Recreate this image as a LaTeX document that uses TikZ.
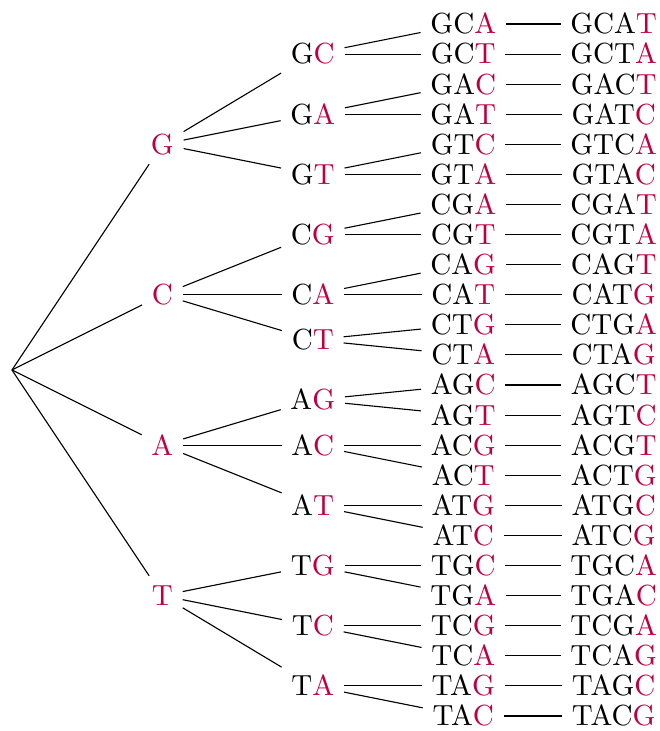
\documentclass[tikz,border=0pt]{standalone}
\usepackage{tikz}
\definecolor{mybasecolor}{HTML}{BF0040}

\begin{document}
\begin{tikzpicture}[seqnode/.style={text height=7.14pt, text depth=0pt}]%
\useasboundingbox (-0.151, -4.560) rectangle (8.178, 4.673);%
\coordinate (root) at (0, 0.0);%
\node[seqnode] (g) at (1.9, 2.85) {\fontsize{10.45pt}{10.45pt}\selectfont \textcolor{mybasecolor}{G}};%
\node[seqnode] (c) at (1.9, 0.95) {\fontsize{10.45pt}{10.45pt}\selectfont \textcolor{mybasecolor}{C}};%
\node[seqnode] (a) at (1.9, -0.95) {\fontsize{10.45pt}{10.45pt}\selectfont \textcolor{mybasecolor}{A}};%
\node[seqnode] (t) at (1.9, -2.85) {\fontsize{10.45pt}{10.45pt}\selectfont \textcolor{mybasecolor}{T}};%
\node[seqnode] (gc) at (3.8, 3.99) {\fontsize{10.45pt}{10.45pt}\selectfont G\textcolor{mybasecolor}{C}};%
\node[seqnode] (ga) at (3.8, 3.23) {\fontsize{10.45pt}{10.45pt}\selectfont G\textcolor{mybasecolor}{A}};%
\node[seqnode] (gt) at (3.8, 2.47) {\fontsize{10.45pt}{10.45pt}\selectfont G\textcolor{mybasecolor}{T}};%
\node[seqnode] (cg) at (3.8, 1.71) {\fontsize{10.45pt}{10.45pt}\selectfont C\textcolor{mybasecolor}{G}};%
\node[seqnode] (ca) at (3.8, 0.95) {\fontsize{10.45pt}{10.45pt}\selectfont C\textcolor{mybasecolor}{A}};%
\node[seqnode] (ct) at (3.8, 0.38) {\fontsize{10.45pt}{10.45pt}\selectfont C\textcolor{mybasecolor}{T}};%
\node[seqnode] (ag) at (3.8, -0.38) {\fontsize{10.45pt}{10.45pt}\selectfont A\textcolor{mybasecolor}{G}};%
\node[seqnode] (ac) at (3.8, -0.95) {\fontsize{10.45pt}{10.45pt}\selectfont A\textcolor{mybasecolor}{C}};%
\node[seqnode] (at) at (3.8, -1.71) {\fontsize{10.45pt}{10.45pt}\selectfont A\textcolor{mybasecolor}{T}};%
\node[seqnode] (tg) at (3.8, -2.47) {\fontsize{10.45pt}{10.45pt}\selectfont T\textcolor{mybasecolor}{G}};%
\node[seqnode] (tc) at (3.8, -3.23) {\fontsize{10.45pt}{10.45pt}\selectfont T\textcolor{mybasecolor}{C}};%
\node[seqnode] (ta) at (3.8, -3.99) {\fontsize{10.45pt}{10.45pt}\selectfont T\textcolor{mybasecolor}{A}};%
\node[seqnode] (gca) at (5.7, 4.37) {\fontsize{10.45pt}{10.45pt}\selectfont GC\textcolor{mybasecolor}{A}};%
\node[seqnode] (gct) at (5.7, 3.99) {\fontsize{10.45pt}{10.45pt}\selectfont GC\textcolor{mybasecolor}{T}};%
\node[seqnode] (gac) at (5.7, 3.61) {\fontsize{10.45pt}{10.45pt}\selectfont GA\textcolor{mybasecolor}{C}};%
\node[seqnode] (gat) at (5.7, 3.23) {\fontsize{10.45pt}{10.45pt}\selectfont GA\textcolor{mybasecolor}{T}};%
\node[seqnode] (gtc) at (5.7, 2.85) {\fontsize{10.45pt}{10.45pt}\selectfont GT\textcolor{mybasecolor}{C}};%
\node[seqnode] (gta) at (5.7, 2.47) {\fontsize{10.45pt}{10.45pt}\selectfont GT\textcolor{mybasecolor}{A}};%
\node[seqnode] (cga) at (5.7, 2.09) {\fontsize{10.45pt}{10.45pt}\selectfont CG\textcolor{mybasecolor}{A}};%
\node[seqnode] (cgt) at (5.7, 1.71) {\fontsize{10.45pt}{10.45pt}\selectfont CG\textcolor{mybasecolor}{T}};%
\node[seqnode] (cag) at (5.7, 1.33) {\fontsize{10.45pt}{10.45pt}\selectfont CA\textcolor{mybasecolor}{G}};%
\node[seqnode] (cat) at (5.7, 0.95) {\fontsize{10.45pt}{10.45pt}\selectfont CA\textcolor{mybasecolor}{T}};%
\node[seqnode] (ctg) at (5.7, 0.57) {\fontsize{10.45pt}{10.45pt}\selectfont CT\textcolor{mybasecolor}{G}};%
\node[seqnode] (cta) at (5.7, 0.19) {\fontsize{10.45pt}{10.45pt}\selectfont CT\textcolor{mybasecolor}{A}};%
\node[seqnode] (agc) at (5.7, -0.19) {\fontsize{10.45pt}{10.45pt}\selectfont AG\textcolor{mybasecolor}{C}};%
\node[seqnode] (agt) at (5.7, -0.57) {\fontsize{10.45pt}{10.45pt}\selectfont AG\textcolor{mybasecolor}{T}};%
\node[seqnode] (acg) at (5.7, -0.95) {\fontsize{10.45pt}{10.45pt}\selectfont AC\textcolor{mybasecolor}{G}};%
\node[seqnode] (act) at (5.7, -1.33) {\fontsize{10.45pt}{10.45pt}\selectfont AC\textcolor{mybasecolor}{T}};%
\node[seqnode] (atg) at (5.7, -1.71) {\fontsize{10.45pt}{10.45pt}\selectfont AT\textcolor{mybasecolor}{G}};%
\node[seqnode] (atc) at (5.7, -2.09) {\fontsize{10.45pt}{10.45pt}\selectfont AT\textcolor{mybasecolor}{C}};%
\node[seqnode] (tgc) at (5.7, -2.47) {\fontsize{10.45pt}{10.45pt}\selectfont TG\textcolor{mybasecolor}{C}};%
\node[seqnode] (tga) at (5.7, -2.85) {\fontsize{10.45pt}{10.45pt}\selectfont TG\textcolor{mybasecolor}{A}};%
\node[seqnode] (tcg) at (5.7, -3.23) {\fontsize{10.45pt}{10.45pt}\selectfont TC\textcolor{mybasecolor}{G}};%
\node[seqnode] (tca) at (5.7, -3.61) {\fontsize{10.45pt}{10.45pt}\selectfont TC\textcolor{mybasecolor}{A}};%
\node[seqnode] (tag) at (5.7, -3.99) {\fontsize{10.45pt}{10.45pt}\selectfont TA\textcolor{mybasecolor}{G}};%
\node[seqnode] (tac) at (5.7, -4.37) {\fontsize{10.45pt}{10.45pt}\selectfont TA\textcolor{mybasecolor}{C}};%
\node[seqnode] (gcat) at (7.6, 4.37) {\fontsize{10.45pt}{10.45pt}\selectfont GCA\textcolor{mybasecolor}{T}};%
\node[seqnode] (gcta) at (7.6, 3.99) {\fontsize{10.45pt}{10.45pt}\selectfont GCT\textcolor{mybasecolor}{A}};%
\node[seqnode] (gact) at (7.6, 3.61) {\fontsize{10.45pt}{10.45pt}\selectfont GAC\textcolor{mybasecolor}{T}};%
\node[seqnode] (gatc) at (7.6, 3.23) {\fontsize{10.45pt}{10.45pt}\selectfont GAT\textcolor{mybasecolor}{C}};%
\node[seqnode] (gtca) at (7.6, 2.85) {\fontsize{10.45pt}{10.45pt}\selectfont GTC\textcolor{mybasecolor}{A}};%
\node[seqnode] (gtac) at (7.6, 2.47) {\fontsize{10.45pt}{10.45pt}\selectfont GTA\textcolor{mybasecolor}{C}};%
\node[seqnode] (cgat) at (7.6, 2.09) {\fontsize{10.45pt}{10.45pt}\selectfont CGA\textcolor{mybasecolor}{T}};%
\node[seqnode] (cgta) at (7.6, 1.71) {\fontsize{10.45pt}{10.45pt}\selectfont CGT\textcolor{mybasecolor}{A}};%
\node[seqnode] (cagt) at (7.6, 1.33) {\fontsize{10.45pt}{10.45pt}\selectfont CAG\textcolor{mybasecolor}{T}};%
\node[seqnode] (catg) at (7.6, 0.95) {\fontsize{10.45pt}{10.45pt}\selectfont CAT\textcolor{mybasecolor}{G}};%
\node[seqnode] (ctga) at (7.6, 0.57) {\fontsize{10.45pt}{10.45pt}\selectfont CTG\textcolor{mybasecolor}{A}};%
\node[seqnode] (ctag) at (7.6, 0.19) {\fontsize{10.45pt}{10.45pt}\selectfont CTA\textcolor{mybasecolor}{G}};%
\node[seqnode] (agct) at (7.6, -0.19) {\fontsize{10.45pt}{10.45pt}\selectfont AGC\textcolor{mybasecolor}{T}};%
\node[seqnode] (agtc) at (7.6, -0.57) {\fontsize{10.45pt}{10.45pt}\selectfont AGT\textcolor{mybasecolor}{C}};%
\node[seqnode] (acgt) at (7.6, -0.95) {\fontsize{10.45pt}{10.45pt}\selectfont ACG\textcolor{mybasecolor}{T}};%
\node[seqnode] (actg) at (7.6, -1.33) {\fontsize{10.45pt}{10.45pt}\selectfont ACT\textcolor{mybasecolor}{G}};%
\node[seqnode] (atgc) at (7.6, -1.71) {\fontsize{10.45pt}{10.45pt}\selectfont ATG\textcolor{mybasecolor}{C}};%
\node[seqnode] (atcg) at (7.6, -2.09) {\fontsize{10.45pt}{10.45pt}\selectfont ATC\textcolor{mybasecolor}{G}};%
\node[seqnode] (tgca) at (7.6, -2.47) {\fontsize{10.45pt}{10.45pt}\selectfont TGC\textcolor{mybasecolor}{A}};%
\node[seqnode] (tgac) at (7.6, -2.85) {\fontsize{10.45pt}{10.45pt}\selectfont TGA\textcolor{mybasecolor}{C}};%
\node[seqnode] (tcga) at (7.6, -3.23) {\fontsize{10.45pt}{10.45pt}\selectfont TCG\textcolor{mybasecolor}{A}};%
\node[seqnode] (tcag) at (7.6, -3.61) {\fontsize{10.45pt}{10.45pt}\selectfont TCA\textcolor{mybasecolor}{G}};%
\node[seqnode] (tagc) at (7.6, -3.99) {\fontsize{10.45pt}{10.45pt}\selectfont TAG\textcolor{mybasecolor}{C}};%
\node[seqnode] (tacg) at (7.6, -4.37) {\fontsize{10.45pt}{10.45pt}\selectfont TAC\textcolor{mybasecolor}{G}};%
\draw (root) -- (g); \draw (root) -- (c); \draw (root) -- (a); \draw (root) -- (t);%
\draw (g) -- (gc); \draw (g) -- (ga); \draw (g) -- (gt);%
\draw (c) -- (cg); \draw (c) -- (ca); \draw (c) -- (ct);%
\draw (a) -- (ag); \draw (a) -- (ac); \draw (a) -- (at);%
\draw (t) -- (tg); \draw (t) -- (tc); \draw (t) -- (ta);%
\draw (gc) -- (gca); \draw (gc) -- (gct); \draw (ga) -- (gac); \draw (ga) -- (gat);%
\draw (gt) -- (gtc); \draw (gt) -- (gta); \draw (cg) -- (cga); \draw (cg) -- (cgt);%
\draw (ca) -- (cag); \draw (ca) -- (cat); \draw (ct) -- (ctg); \draw (ct) -- (cta);%
\draw (ag) -- (agc); \draw (ag) -- (agt); \draw (ac) -- (acg); \draw (ac) -- (act);%
\draw (at) -- (atg); \draw (at) -- (atc); \draw (tg) -- (tgc); \draw (tg) -- (tga);%
\draw (tc) -- (tcg); \draw (tc) -- (tca); \draw (ta) -- (tag); \draw (ta) -- (tac);%
\draw (gca) -- (gcat); \draw (gct) -- (gcta); \draw (gac) -- (gact); \draw (gat) -- (gatc);%
\draw (gtc) -- (gtca); \draw (gta) -- (gtac); \draw (cga) -- (cgat); \draw (cgt) -- (cgta);%
\draw (cag) -- (cagt); \draw (cat) -- (catg); \draw (ctg) -- (ctga); \draw (cta) -- (ctag);%
\draw (agc) -- (agct); \draw (agt) -- (agtc); \draw (acg) -- (acgt); \draw (act) -- (actg);%
\draw (atg) -- (atgc); \draw (atc) -- (atcg); \draw (tgc) -- (tgca); \draw (tga) -- (tgac);%
\draw (tcg) -- (tcga); \draw (tca) -- (tcag); \draw (tag) -- (tagc); \draw (tac) -- (tacg);%
\end{tikzpicture}
\end{document}
